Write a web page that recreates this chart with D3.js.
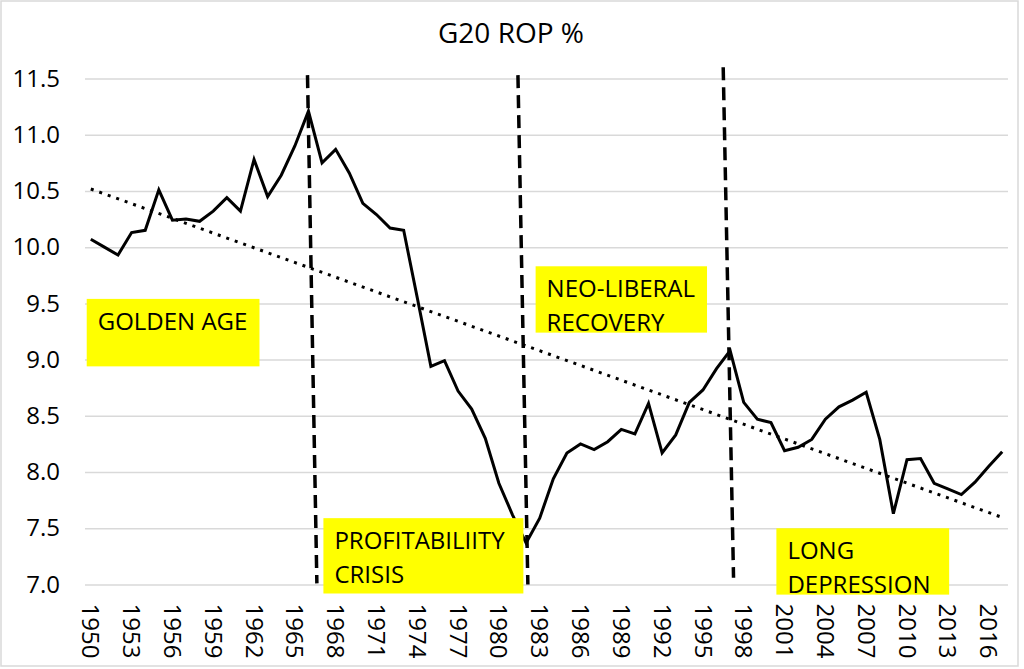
<!DOCTYPE html>
<html lang="en">
<head>
    <meta charset="UTF-8">
    <title>G20 ROP %</title>
    <style>
        body { margin: 0; background: #fff; }
        text { font-family: "Open Sans", "Liberation Sans", sans-serif; fill: #000; }
    </style>
</head>
<body>
<script type='text/javascript' src='https://d3js.org/d3.v7.min.js'></script>
<script>
    // years and rate of profit values
    var years = d3.range(1950, 2018);
    var rop = [
        10.07, 10.00, 9.93, 10.13, 10.15, 10.51, 10.24, 10.25, 10.23, 10.32,
        10.44, 10.32, 10.78, 10.45, 10.64, 10.90, 11.21, 10.75, 10.87, 10.66,
        10.39, 10.29, 10.17, 10.15, 9.55, 8.94, 8.99, 8.72, 8.56, 8.30,
        7.90, 7.62, 7.37, 7.59, 7.94, 8.17, 8.25, 8.20, 8.27, 8.38,
        8.34, 8.61, 8.17, 8.33, 8.62, 8.73, 8.92, 9.08, 8.62, 8.47,
        8.44, 8.19, 8.22, 8.29, 8.47, 8.58, 8.64, 8.71, 8.29, 7.63,
        8.11, 8.12, 7.90, 7.85, 7.80, 7.91, 8.05, 8.18
    ];
    var yTicks = [7.0, 7.5, 8.0, 8.5, 9.0, 9.5, 10.0, 10.5, 11.0, 11.5];
    var xTicks = years.filter(function(y) { return (y - 1950) % 3 === 0; });

    // period divider lines (year, value) top -> bottom
    var dividers = [
        [[1965.93, 11.53], [1966.62, 7.01]],
        [[1981.40, 11.53], [1982.13, 7.00]],
        [[1996.49, 11.60], [1997.25, 7.06]]
    ];
    // period labels: box corners in (year, value), text lines
    var periods = [
        {x0: 1949.7, x1: 1962.4, top: 9.54, bottom: 8.94, lines: ["GOLDEN AGE"]},
        {x0: 1967.1, x1: 1981.8, top: 7.59, bottom: 6.92, lines: ["PROFITABILIITY", "CRISIS"]},
        {x0: 1982.7, x1: 1995.3, top: 9.83, bottom: 9.24, lines: ["NEO-LIBERAL", "RECOVERY"]},
        {x0: 2000.4, x1: 2013.1, top: 7.50, bottom: 6.91, lines: ["LONG", "DEPRESSION"]}
    ];

    const width = 1024;
    const height = 669;
    const plotLeft = 84, plotRight = 1009, plotTop = 78.5, plotBottom = 584.5;

    const svg = d3.select("body")
        .append("svg")
        .attr("width", width)
        .attr("height", height);

    // chart border
    svg.append("rect")
        .attr("x", 1).attr("y", 1)
        .attr("width", 1017).attr("height", 665)
        .attr("fill", "#fff")
        .attr("stroke", "#d9d9d9")
        .attr("stroke-width", 1.5);

    var x = d3.scaleBand()
        .domain(years)
        .range([plotLeft, plotRight]);
    var bw = x.bandwidth();
    // continuous year position through band centres
    var xYear = d3.scaleLinear()
        .domain([1950, 2017])
        .range([x(1950) + bw / 2, x(2017) + bw / 2]);
    var y = d3.scaleLinear()
        .domain([7, 11.5])
        .range([plotBottom, plotTop]);

    // title
    svg.append("text")
        .attr("x", 511)
        .attr("y", 43)
        .attr("text-anchor", "middle")
        .style("font-size", "28px")
        .text("G20 ROP %");

    // y axis with gridlines
    var yAxis = svg.append("g")
        .attr("transform", "translate(" + (plotLeft + 1) + ",0)")
        .call(d3.axisLeft(y)
            .tickValues(yTicks)
            .tickFormat(d3.format(".1f"))
            .tickSize(-(plotRight - plotLeft - 2))
            .tickPadding(25));
    yAxis.select(".domain").remove();
    yAxis.selectAll(".tick line").attr("stroke", "#d9d9d9").attr("stroke-width", 1.5);
    yAxis.selectAll(".tick text")
        .style("font-size", "24px")
        .style("font-family", "'Open Sans', sans-serif")
        .attr("fill", "#000");

    // x axis labels, rotated
    var xAxis = svg.append("g")
        .attr("transform", "translate(0," + plotBottom + ")")
        .call(d3.axisBottom(x).tickValues(xTicks).tickSize(0));
    xAxis.select(".domain").remove();
    xAxis.selectAll(".tick text")
        .attr("transform", "rotate(90)")
        .attr("x", 19)
        .attr("y", 0)
        .attr("dy", "0.35em")
        .attr("text-anchor", "start")
        .style("font-size", "24px")
        .style("font-family", "'Open Sans', sans-serif")
        .attr("fill", "#000");

    // linear trendline (least squares)
    var n = years.length;
    var mx = d3.mean(years), my = d3.mean(rop);
    var sxy = d3.sum(years, function(d, i) { return (d - mx) * (rop[i] - my); });
    var sxx = d3.sum(years, function(d) { return (d - mx) * (d - mx); });
    var slope = sxy / sxx, icpt = my - slope * mx;
    var trendYears = [years[0], years[n - 1]];
    svg.append("path")
        .attr("d", d3.line()
            .x(function(d) { return xYear(d); })
            .y(function(d) { return y(icpt + slope * d); })(trendYears))
        .attr("fill", "none")
        .attr("stroke", "#000")
        .attr("stroke-width", 3)
        .attr("stroke-dasharray", "3,6");

    // data line
    svg.append("path")
        .datum(rop)
        .attr("d", d3.line()
            .x(function(d, i) { return x(years[i]) + bw / 2; })
            .y(function(d) { return y(d); }))
        .attr("fill", "none")
        .attr("stroke", "#000")
        .attr("stroke-width", 3)
        .attr("stroke-linejoin", "miter");

    // dashed period dividers
    svg.selectAll(".divider")
        .data(dividers)
        .enter()
        .append("path")
        .attr("class", "divider")
        .attr("d", d3.line()
            .x(function(d) { return xYear(d[0]); })
            .y(function(d) { return y(d[1]); }))
        .attr("stroke", "#000")
        .attr("stroke-width", 3.5)
        .attr("stroke-dasharray", "13,7");

    // yellow period labels
    var boxes = svg.selectAll(".period")
        .data(periods)
        .enter()
        .append("g")
        .attr("class", "period");
    boxes.append("rect")
        .attr("x", function(d) { return xYear(d.x0); })
        .attr("y", function(d) { return y(d.top); })
        .attr("width", function(d) { return xYear(d.x1) - xYear(d.x0); })
        .attr("height", function(d) { return y(d.bottom) - y(d.top); })
        .attr("fill", "#ffff00");
    boxes.each(function(d) {
        var g = d3.select(this);
        d.lines.forEach(function(line, i) {
            g.append("text")
                .attr("x", xYear(d.x0) + 11)
                .attr("y", y(d.top) + 31 + i * 34)
                .style("font-size", "24px")
                .text(line);
        });
    });
</script>
</body>
</html>
